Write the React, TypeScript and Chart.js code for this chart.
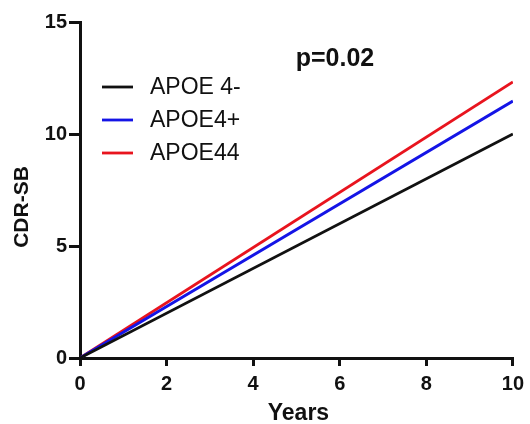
import React, { useEffect, useRef } from "react";
import { Chart, registerables } from "chart.js";

Chart.register(...registerables);

const years = [0, 10];
const apoeNeg = [0, 10.0];
const apoePos = [0, 11.47];
const apoe44 = [0, 12.32];
const seriesNames = ["APOE 4-", "APOE4+", "APOE44"];
const seriesColors = ["#111111", "#1414e6", "#e8141e"];
const pLabel = "p=0.02";
const xTitle = "Years";
const yTitle = "CDR-SB";

const FONT = "'Liberation Sans', Arial, sans-serif";

const overlay = {
  id: "overlay",
  afterDraw(chart: any) {
    const ctx = chart.ctx;
    const area = chart.chartArea;
    ctx.save();
    // legend
    ctx.font = `23px ${FONT}`;
    ctx.textBaseline = "middle";
    ctx.textAlign = "left";
    const rows = [87, 120, 153];
    seriesNames.forEach((n, i) => {
      ctx.strokeStyle = seriesColors[i];
      ctx.lineWidth = 2.8;
      ctx.beginPath();
      ctx.moveTo(102, rows[i]);
      ctx.lineTo(133, rows[i]);
      ctx.stroke();
      ctx.fillStyle = "#111";
      ctx.fillText(n, 150, rows[i] + 1);
    });
    // p value
    ctx.font = `bold 25px ${FONT}`;
    ctx.textAlign = "center";
    ctx.fillText(pLabel, 335, 59);
    // x title
    ctx.font = `bold 23px ${FONT}`;
    ctx.fillText(xTitle, (area.left + area.right) / 2 + 2, 414);
    // y title
    ctx.font = `bold 21px ${FONT}`;
    ctx.translate(22, 207);
    ctx.rotate(-Math.PI / 2);
    ctx.fillText(yTitle, 0, 0);
    ctx.restore();
  },
};

export default function App() {
  const ref = useRef<HTMLCanvasElement>(null);
  useEffect(() => {
    const mk = (vals: number[]) => years.map((x, i) => ({ x, y: vals[i] }));
    const chart = new Chart(ref.current!, {
      type: "line",
      data: {
        datasets: [apoeNeg, apoePos, apoe44].map((v, i) => ({
          label: seriesNames[i],
          data: mk(v),
          borderColor: seriesColors[i],
          borderWidth: 2.8,
          pointRadius: 0,
          fill: false,
          tension: 0,
        })),
      },
      options: {
        animation: false,
        responsive: false,
        layout: { padding: { top: 22, right: 15, left: 0, bottom: 0 } },
        plugins: { legend: { display: false }, tooltip: { enabled: false } },
        scales: {
          x: {
            type: "linear",
            min: 0,
            max: 10,
            ticks: {
              stepSize: 2,
              color: "#111",
              font: { family: FONT, size: 20, weight: "bold" },
              padding: 6,
            },
            grid: { drawOnChartArea: false, drawTicks: true, tickLength: 8, color: "#111", lineWidth: 3 },
            border: { color: "#111", width: 3 },
            afterFit: (s: any) => {
              s.height = 66;
            },
          },
          y: {
            min: 0,
            max: 15,
            ticks: {
              stepSize: 5,
              color: "#111",
              font: { family: FONT, size: 20, weight: "bold" },
              padding: 2,
            },
            grid: { drawOnChartArea: false, drawTicks: true, tickLength: 11, color: "#111", lineWidth: 3 },
            border: { color: "#111", width: 3 },
            afterFit: (s: any) => {
              s.width = 80;
            },
          },
        },
      },
      plugins: [overlay],
    });
    return () => chart.destroy();
  }, []);
  return (
    <div style={{ position: "fixed", left: 0, top: 0, width: 530, height: 424, background: "#fff" }}>
      <canvas ref={ref} width={530} height={424} />
    </div>
  );
}
